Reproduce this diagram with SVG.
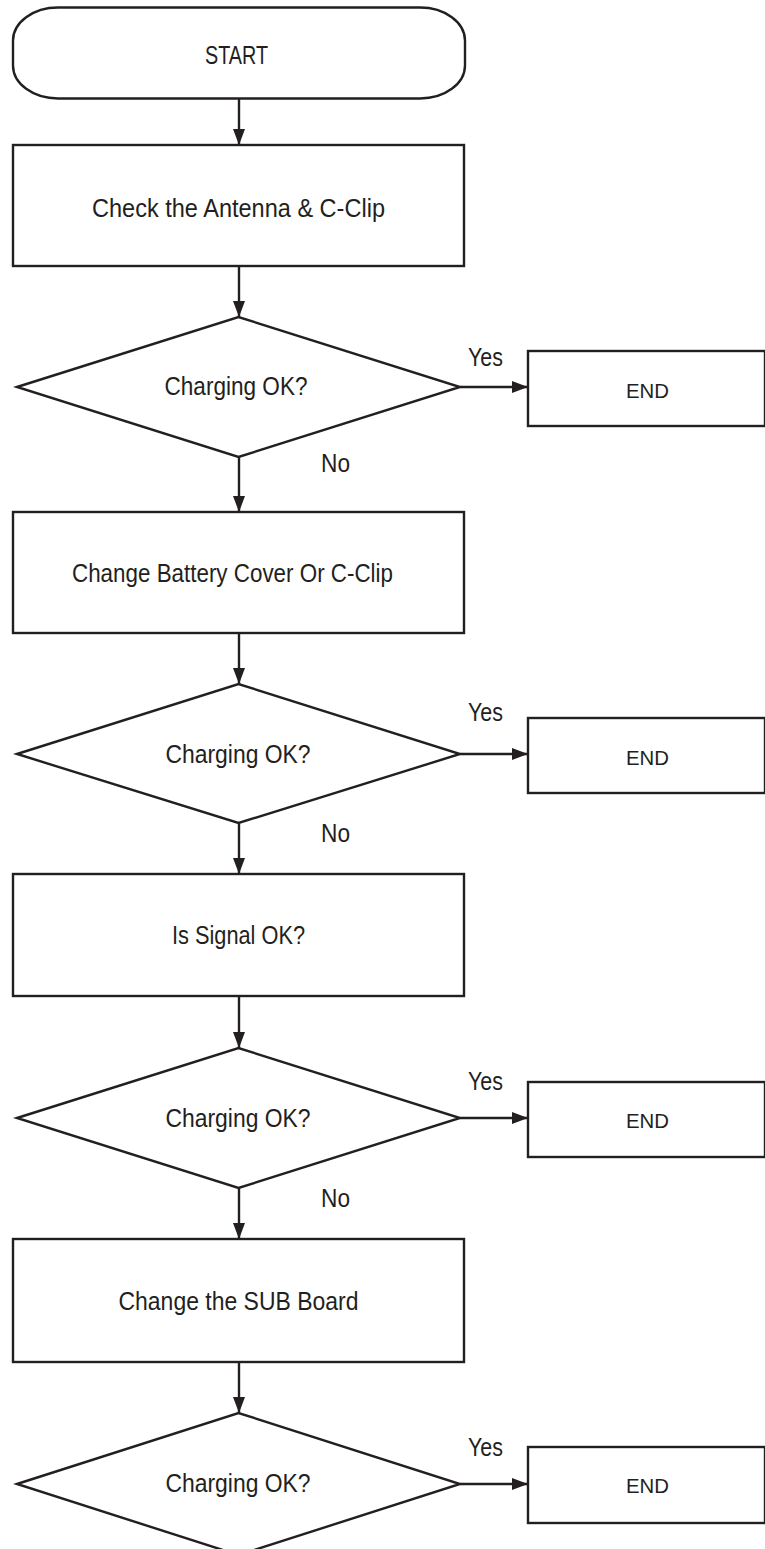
<svg xmlns="http://www.w3.org/2000/svg" width="765" height="1549" viewBox="0 0 765 1549">
<style>
.shape{fill:#fff;stroke:#231f20;stroke-width:2.4}
.conn{fill:none;stroke:#231f20;stroke-width:2.4}
.t{font-family:"Liberation Sans",Arial,sans-serif;fill:#231f20;text-anchor:middle}
.big{font-size:26.5px}
.lbl{font-size:25.5px}
.end{font-size:21px}
</style>
<defs>
<marker id="ah" markerUnits="userSpaceOnUse" markerWidth="16" markerHeight="12" refX="16" refY="6" orient="auto">
<path d="M0,0 L16,6 L0,12 z" fill="#231f20"/>
</marker>
</defs>
<rect width="765" height="1549" fill="#fff"/>

<g id="connectors">
<line class="conn" x1="239" y1="98" x2="239" y2="145" marker-end="url(#ah)"/>
<line class="conn" x1="239" y1="266" x2="239" y2="317" marker-end="url(#ah)"/>
<line class="conn" x1="239" y1="457" x2="239" y2="512" marker-end="url(#ah)"/>
<line class="conn" x1="239" y1="633" x2="239" y2="684" marker-end="url(#ah)"/>
<line class="conn" x1="239" y1="823" x2="239" y2="874" marker-end="url(#ah)"/>
<line class="conn" x1="239" y1="996" x2="239" y2="1048" marker-end="url(#ah)"/>
<line class="conn" x1="239" y1="1188" x2="239" y2="1239" marker-end="url(#ah)"/>
<line class="conn" x1="239" y1="1362" x2="239" y2="1413" marker-end="url(#ah)"/>
<line class="conn" x1="460" y1="387" x2="528" y2="387" marker-end="url(#ah)"/>
<line class="conn" x1="460" y1="754" x2="528" y2="754" marker-end="url(#ah)"/>
<line class="conn" x1="460" y1="1118" x2="528" y2="1118" marker-end="url(#ah)"/>
<line class="conn" x1="460" y1="1484" x2="528" y2="1484" marker-end="url(#ah)"/>
<text class="t lbl" x="485.5" y="366" textLength="35" lengthAdjust="spacingAndGlyphs">Yes</text>
<text class="t lbl" x="335.5" y="472" textLength="29" lengthAdjust="spacingAndGlyphs">No</text>
<text class="t lbl" x="485.5" y="721" textLength="35" lengthAdjust="spacingAndGlyphs">Yes</text>
<text class="t lbl" x="335.5" y="842" textLength="29" lengthAdjust="spacingAndGlyphs">No</text>
<text class="t lbl" x="485.5" y="1090" textLength="35" lengthAdjust="spacingAndGlyphs">Yes</text>
<text class="t lbl" x="335.5" y="1207" textLength="29" lengthAdjust="spacingAndGlyphs">No</text>
<text class="t lbl" x="485.5" y="1456" textLength="35" lengthAdjust="spacingAndGlyphs">Yes</text>
</g>

<g id="start">
<rect class="shape" x="13" y="7.5" width="452" height="91" rx="45" ry="33"/>
<text class="t big" x="236.5" y="64" textLength="63" lengthAdjust="spacingAndGlyphs">START</text>
</g>

<g id="check-antenna">
<rect class="shape" x="13" y="145" width="451" height="121"/>
<text class="t big" x="238.5" y="217" textLength="293" lengthAdjust="spacingAndGlyphs">Check the Antenna &amp; C-Clip</text>
</g>

<g id="decision1">
<polygon class="shape" points="17,387 238.5,317 460,387 238.5,457"/>
<text class="t lbl" x="236" y="395" textLength="143" lengthAdjust="spacingAndGlyphs">Charging OK?</text>
</g>
<g id="end1">
<rect class="shape" x="528" y="351" width="237" height="75"/>
<text class="t end" x="647.5" y="398" textLength="43" lengthAdjust="spacingAndGlyphs">END</text>
</g>

<g id="change-battery-cover">
<rect class="shape" x="13" y="512" width="451" height="121"/>
<text class="t big" x="232.5" y="582" textLength="321" lengthAdjust="spacingAndGlyphs">Change Battery Cover Or C-Clip</text>
</g>

<g id="decision2">
<polygon class="shape" points="17,754 238.5,684 460,754 238.5,823"/>
<text class="t lbl" x="238" y="763" textLength="145" lengthAdjust="spacingAndGlyphs">Charging OK?</text>
</g>
<g id="end2">
<rect class="shape" x="528" y="718" width="237" height="75"/>
<text class="t end" x="647.5" y="765" textLength="43" lengthAdjust="spacingAndGlyphs">END</text>
</g>

<g id="signal-check">
<rect class="shape" x="13" y="874" width="451" height="122"/>
<text class="t big" x="238.5" y="944" textLength="133" lengthAdjust="spacingAndGlyphs">Is Signal OK?</text>
</g>

<g id="decision3">
<polygon class="shape" points="17,1118 238.5,1048 460,1118 238.5,1188"/>
<text class="t lbl" x="238" y="1127" textLength="145" lengthAdjust="spacingAndGlyphs">Charging OK?</text>
</g>
<g id="end3">
<rect class="shape" x="528" y="1082" width="237" height="75"/>
<text class="t end" x="647.5" y="1128" textLength="43" lengthAdjust="spacingAndGlyphs">END</text>
</g>

<g id="change-sub-board">
<rect class="shape" x="13" y="1239" width="451" height="123"/>
<text class="t big" x="238.5" y="1310" textLength="240" lengthAdjust="spacingAndGlyphs">Change the SUB Board</text>
</g>

<g id="decision4">
<polygon class="shape" points="17,1484 238.5,1413 460,1484 238.5,1555"/>
<text class="t lbl" x="238" y="1492" textLength="145" lengthAdjust="spacingAndGlyphs">Charging OK?</text>
</g>
<g id="end4">
<rect class="shape" x="528" y="1447" width="237" height="76"/>
<text class="t end" x="647.5" y="1493" textLength="43" lengthAdjust="spacingAndGlyphs">END</text>
</g>
</svg>
